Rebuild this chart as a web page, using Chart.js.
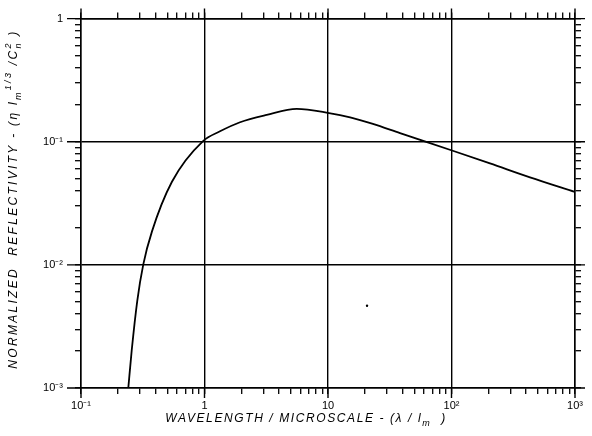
<!DOCTYPE html>
<html><head><meta charset="utf-8">
<script src="https://cdn.jsdelivr.net/npm/chart.js@4/dist/chart.umd.min.js"></script>
<style>html,body{margin:0;padding:0;background:#fff}#wrap{width:592px;height:436px}</style>
</head><body><div id="wrap"><canvas id="c" width="592" height="436"></canvas></div>
<script>
// ---- data ----
const wavelength   = [0.2415, 0.2573, 0.2857, 0.3195, 0.3757, 0.545, 0.973, 1.335, 1.94, 3.19, 5.58, 10.2, 15.1, 23.1, 38.3, 101, 205, 432, 1000];
const reflectivity = [0.001, 0.00201, 0.00513, 0.0101, 0.0187, 0.0473, 0.1013, 0.1215, 0.144, 0.165, 0.1846, 0.171, 0.158, 0.1397, 0.1175, 0.0849, 0.0667, 0.0514, 0.0391];
const speckX = [20.7];
const speckY = [0.00465];
const xTickValues = [0.1, 1, 10, 100, 1000];
const xTickLabels = ['10\u207B\u00B9', '1', '10', '10\u00B2', '10\u00B3'];
const yTickValues = [0.001, 0.01, 0.1, 1];
const yTickLabels = ['10\u207B\u00B3', '10\u207B\u00B2', '10\u207B\u00B9', '1'];
const xTitle = [['WAVELENGTH / MICROSCALE - (\u03BB / l', 0], ['m', 1], ['  )', 0]];
const yTitle = [['NORMALIZED  REFLECTIVITY - (\u03B7 l', 0], ['m', 1], ['1/3', 2], [' /C', 0], ['n', 3], ['2', 2], [' )', 0]];

function isDecade(v){ const l = Math.log10(v); return Math.abs(l - Math.round(l)) < 1e-6; }
function allTicks(decs){
  const t = [];
  for (let i = 0; i < decs.length; i++){
    t.push({value: decs[i]});
    if (i < decs.length - 1) for (let k = 2; k <= 9; k++) t.push({value: decs[i] * k});
  }
  return t;
}
function labelFor(vals, labs){
  return (v) => { const i = vals.findIndex(d => Math.abs(d - v) / d < 1e-6); return i >= 0 ? labs[i] : ''; };
}
const tickFont = {family: "'Liberation Sans', sans-serif", size: 11};

function axis(pos, decs, labs, showLabels, size){
  const horiz = pos === 'bottom' || pos === 'top';
  return {
    type: 'logarithmic', position: pos,
    min: decs[0], max: decs[decs.length - 1],
    afterBuildTicks: s => { s.ticks = allTicks(decs); },
    afterFit: s => { if (horiz) s.height = size; else s.width = size; },
    border: {display: true, color: '#000', width: 1.5},
    grid: {
      display: true,
      drawOnChartArea: showLabels,
      drawTicks: true, tickLength: 6,
      color: c => (c.tick && isDecade(c.tick.value)) ? '#000' : 'rgba(0,0,0,0)',
      tickColor: '#000', lineWidth: 1.4, tickWidth: 1.3
    },
    ticks: {
      display: true, autoSkip: false, maxRotation: 0, minRotation: 0,
      color: '#000', font: tickFont,
      padding: horiz ? 5 : 12,
      callback: showLabels ? labelFor(decs, labs) : () => ''
    }
  };
}

const extrasPlugin = {
  id: 'extras',
  afterDraw(chart){
    const ctx = chart.ctx, a = chart.chartArea;
    const sx = chart.scales.x, sy = chart.scales.y;
    ctx.save();
    ctx.strokeStyle = '#000'; ctx.lineWidth = 1.4;
    ctx.beginPath();
    xTickValues.forEach(v => { const p = sx.getPixelForValue(v);
      ctx.moveTo(p, a.bottom); ctx.lineTo(p, a.bottom + 10);
      ctx.moveTo(p, a.top); ctx.lineTo(p, a.top - 10); });
    yTickValues.forEach(v => { const p = sy.getPixelForValue(v);
      ctx.moveTo(a.left, p); ctx.lineTo(a.left - 14, p);
      ctx.moveTo(a.right, p); ctx.lineTo(a.right + 10, p); });
    ctx.stroke();

    // axis titles (rich text with sub/superscripts)
    ctx.fillStyle = '#000';
    const base = "italic 12px 'Liberation Sans', sans-serif";
    const small = "italic 9px 'Liberation Sans', sans-serif";
    function draw(segs, cx, cy, rot, spacing){
      ctx.save();
      ctx.translate(cx, cy); ctx.rotate(rot);
      ctx.textBaseline = 'middle'; ctx.textAlign = 'left';
      ctx.letterSpacing = spacing;
      let w = 0;
      segs.forEach(([t, k]) => { ctx.font = k ? small : base; const m = ctx.measureText(t).width; if (k !== 3) w += m; });
      let x = -w / 2;
      segs.forEach(([t, k]) => {
        ctx.font = k ? small : base;
        const dy = k === 1 || k === 3 ? 4 : (k === 2 ? -6 : 0);
        ctx.fillText(t, x, dy);
        if (k !== 3) x += ctx.measureText(t).width;
      });
      ctx.restore();
    }
    draw(xTitle, 306, 419, 0, '1.6px');
    draw(yTitle, 14, 199, -Math.PI / 2, '2.3px');
    ctx.restore();
  }
};

new Chart(document.getElementById('c'), {
  type: 'line',
  data: {
    datasets: [
      { label: 'reflectivity', data: wavelength.map((x, i) => ({x, y: reflectivity[i]})),
        borderColor: '#000', borderWidth: 1.8, pointRadius: 0, fill: false,
        cubicInterpolationMode: 'monotone', xAxisID: 'x', yAxisID: 'y' },
      { label: 'speck', data: speckX.map((x, i) => ({x, y: speckY[i]})), showLine: false,
        pointRadius: 1.2, pointBackgroundColor: '#000', pointBorderWidth: 0, xAxisID: 'x', yAxisID: 'y' }
    ]
  },
  options: {
    responsive: false, animation: false, devicePixelRatio: 1,
    layout: {padding: 0},
    plugins: {legend: {display: false}, tooltip: {enabled: false}, title: {display: false}},
    scales: {
      x: axis('bottom', xTickValues, xTickLabels, true, 48),
      xTop: axis('top', xTickValues, xTickLabels, false, 15),
      y: axis('left', yTickValues, yTickLabels, true, 81),
      yRight: axis('right', yTickValues, yTickLabels, false, 17)
    }
  },
  plugins: [extrasPlugin]
});
</script></body></html>
